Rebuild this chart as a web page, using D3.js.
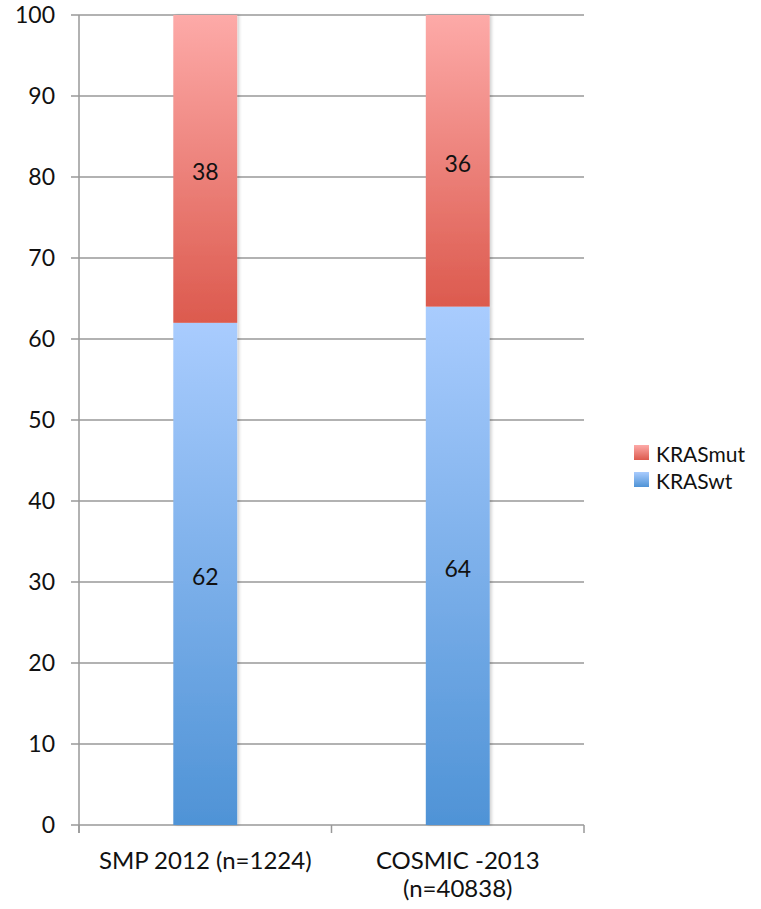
<!DOCTYPE html>
<html><head><meta charset="utf-8">
<script src="https://cdn.jsdelivr.net/npm/d3@7"></script>
<style>body{margin:0;background:#fff}text{font-family:Lato,"Open Sans",sans-serif;fill:#111}</style>
</head><body><svg id="c" width="761" height="909"></svg>
<script>
const categories = [["SMP 2012 (n=1224)"], ["COSMIC -2013", "(n=40838)"]];
const seriesNames = ["KRASwt", "KRASmut"];
const kraswt = [62, 64];
const krasmut = [38, 36];
const yTicks = [0,10,20,30,40,50,60,70,80,90,100];

(function(){
const svg = d3.select("#c");
const pLeft = 79, pRight = 584, pTop = 15, pBottom = 825;
const x = d3.scaleBand().domain(d3.range(categories.length)).range([pLeft, pRight]).paddingInner(0).paddingOuter(0);
const y = d3.scaleLinear().domain([0,100]).range([pBottom, pTop]);
const barW = x.bandwidth() * 0.253;

const defs = svg.append("defs");
function grad(id, c1, c2){
  const g = defs.append("linearGradient").attr("id", id).attr("x1",0).attr("y1",0).attr("x2",0).attr("y2",1);
  g.append("stop").attr("offset","0%").attr("stop-color",c1);
  g.append("stop").attr("offset","100%").attr("stop-color",c2);
}
grad("gmut", "#FDAAA8", "#DC5A4E");
grad("gwt", "#A9CCFE", "#4F93D6");
const f = defs.append("filter").attr("id","sh").attr("x","-20%").attr("y","-5%").attr("width","150%").attr("height","110%");
f.append("feDropShadow").attr("dx",2).attr("dy",0).attr("stdDeviation",1.5).attr("flood-color","#000").attr("flood-opacity",0.18);

// gridlines
svg.append("g").selectAll("line").data(yTicks).join("line")
  .attr("x1", pLeft-8).attr("x2", pRight).attr("y1", d=>y(d)).attr("y2", d=>y(d))
  .attr("stroke", "#999").attr("stroke-width", 1.5);
// y axis line
svg.append("line").attr("x1",pLeft).attr("x2",pLeft).attr("y1",pTop).attr("y2",pBottom+8).attr("stroke","#999").attr("stroke-width",1.5);
// x category ticks
const bounds = [pLeft, ...d3.range(1,categories.length).map(i=>x(i)), pRight];
svg.append("g").selectAll("line").data(bounds).join("line")
  .attr("x1", d=>d).attr("x2", d=>d).attr("y1", pBottom).attr("y2", pBottom+8)
  .attr("stroke","#999").attr("stroke-width",1.5);
// y labels
svg.append("g").selectAll("text").data(yTicks).join("text")
  .attr("x", 55).attr("y", d=>y(d)).attr("dy","0.36em").attr("text-anchor","end")
  .attr("font-size", 23).text(d=>d);

// bars
const stacked = categories.map((c,i)=>({i, wt:kraswt[i], mut:krasmut[i]}));
const bars = svg.append("g").attr("filter","url(#sh)");
bars.selectAll(".wt").data(stacked).join("rect").attr("class","wt")
  .attr("x", d=>x(d.i)+x.bandwidth()/2-barW/2).attr("width", barW)
  .attr("y", d=>y(d.wt)).attr("height", d=>y(0)-y(d.wt)).attr("fill","url(#gwt)");
bars.selectAll(".mut").data(stacked).join("rect").attr("class","mut")
  .attr("x", d=>x(d.i)+x.bandwidth()/2-barW/2).attr("width", barW)
  .attr("y", d=>y(d.wt+d.mut)).attr("height", d=>y(d.wt)-y(d.wt+d.mut)).attr("fill","url(#gmut)");

// value labels
svg.append("g").selectAll("text").data(stacked).join("text")
  .attr("x", d=>x(d.i)+x.bandwidth()/2).attr("y", d=>y(d.wt/2)+3).attr("dy","0.36em")
  .attr("text-anchor","middle").attr("font-size",23).text(d=>d.wt);
svg.append("g").selectAll("text").data(stacked).join("text")
  .attr("x", d=>x(d.i)+x.bandwidth()/2).attr("y", d=>y(d.wt+d.mut/2)+3).attr("dy","0.36em")
  .attr("text-anchor","middle").attr("font-size",23).text(d=>d.mut);

// category labels
categories.forEach((lines,i)=>{
  const t = svg.append("text").attr("x", x(i)+x.bandwidth()/2).attr("y", 869)
    .attr("text-anchor","middle").attr("font-size",24);
  lines.forEach((l,j)=>t.append("tspan").attr("x", x(i)+x.bandwidth()/2).attr("dy", j?28:0).text(l));
});

// legend
const legend = [{name:"KRASmut", fill:"url(#gmut)"},{name:"KRASwt", fill:"url(#gwt)"}];
const lg = svg.append("g").selectAll("g").data(legend).join("g")
  .attr("transform",(d,i)=>`translate(634,${445+i*27})`);
lg.append("rect").attr("width",15).attr("height",15).attr("fill",d=>d.fill);
lg.append("text").attr("x",22).attr("y",9).attr("dy","0.36em").attr("font-size",21).text(d=>d.name);
})();
</script></body></html>
